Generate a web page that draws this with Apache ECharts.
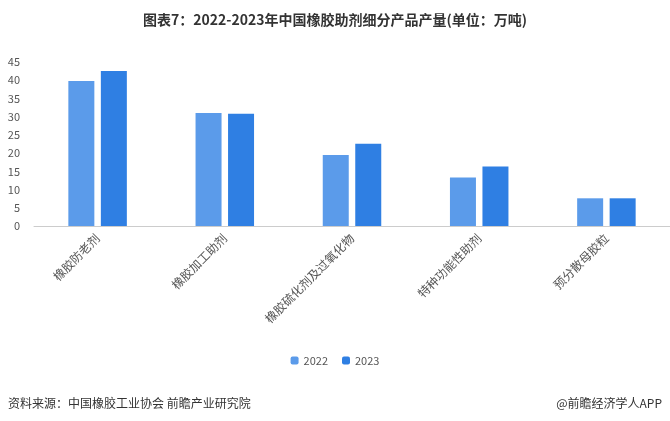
<!DOCTYPE html>
<html><head><meta charset="utf-8">
<script src="https://cdn.jsdelivr.net/npm/echarts@6/dist/echarts.min.js"></script>
<style>body{margin:0}#chart{width:670px;height:421px}</style>
</head><body><div id="chart"></div>
<script>
var categories = ['橡胶防老剂', '橡胶加工助剂', '橡胶硫化剂及过氧化物', '特种功能性助剂', '预分散母胶粒'];
var values2022 = [39.8, 31.0, 19.5, 13.3, 7.6];
var values2023 = [42.5, 30.8, 22.6, 16.3, 7.6];
var yTicks = [0, 5, 10, 15, 20, 25, 30, 35, 40, 45];

var myChart = echarts.init(document.getElementById('chart'));
var font = '"Noto Sans CJK SC", sans-serif';
var option = {
    textStyle: { fontFamily: font },
    title: {
        text: '图表7：2022-2023年中国橡胶助剂细分产品产量(单位：万吨)',
        left: 'center', top: 8,
        textStyle: { fontSize: 14, fontWeight: 'bold', color: '#333', fontFamily: font }
    },
    legend: {
        data: ['2022', '2023'], bottom: 50, itemWidth: 8, itemHeight: 8, itemGap: 14,
        textStyle: { fontSize: 11, color: '#555' }
    },
    grid: { left: 34, right: 0, top: 62, bottom: 195 },
    xAxis: {
        type: 'category', data: categories,
        axisLine: { lineStyle: { color: '#ccc' } }, axisTick: { show: false },
        axisLabel: { rotate: 45, color: '#555', fontSize: 12, margin: 10 }
    },
    yAxis: {
        type: 'value', min: 0, max: 45, interval: 5,
        axisLine: { show: false }, axisTick: { show: false }, splitLine: { show: false },
        axisLabel: { color: '#555', fontSize: 11, margin: 14 }
    },
    series: [
        { name: '2022', type: 'bar', data: values2022, barWidth: 26, barGap: '25%', itemStyle: { color: '#5b9bea' } },
        { name: '2023', type: 'bar', data: values2023, barWidth: 26, itemStyle: { color: '#2f7fe3' } }
    ],
    graphic: [
        { type: 'text', left: 8, bottom: 12, style: { text: '资料来源：中国橡胶工业协会 前瞻产业研究院', fontSize: 12, fill: '#333', fontFamily: font } },
        { type: 'text', right: 8, bottom: 12, style: { text: '@前瞻经济学人APP', fontSize: 12, fill: '#333', fontFamily: font } }
    ]
};
myChart.setOption(option);
</script></body></html>
